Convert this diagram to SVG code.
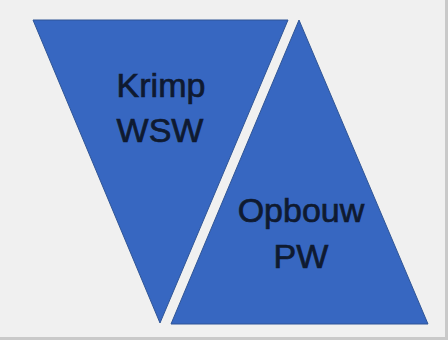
<svg xmlns="http://www.w3.org/2000/svg" width="448" height="340" viewBox="0 0 448 340">
  <style>
    .tri { fill: #3767c1; stroke: #2f5597; stroke-width: 1; }
    .lbl { font-family: "Liberation Sans", Arial, sans-serif; font-size: 34px; fill: #0f1a30; stroke: #0f1a30; stroke-width: 0.7; text-anchor: middle; }
  </style>
  <rect x="0" y="0" width="448" height="340" fill="#c9c9c9"/>
  <rect x="0" y="0" width="445" height="337" fill="#f0f0f0"/>
  <g id="krimp">
    <polygon class="tri" points="33,20 288,20 160,323"/>
    <text class="lbl" x="161" y="97">Krimp</text>
    <text class="lbl" x="160" y="142">WSW</text>
  </g>
  <g id="opbouw">
    <polygon class="tri" points="299,20 428,324 171,324"/>
    <text class="lbl" x="301" y="222">Opbouw</text>
    <text class="lbl" x="301" y="268">PW</text>
  </g>
  <g id="connectors"/>
</svg>
